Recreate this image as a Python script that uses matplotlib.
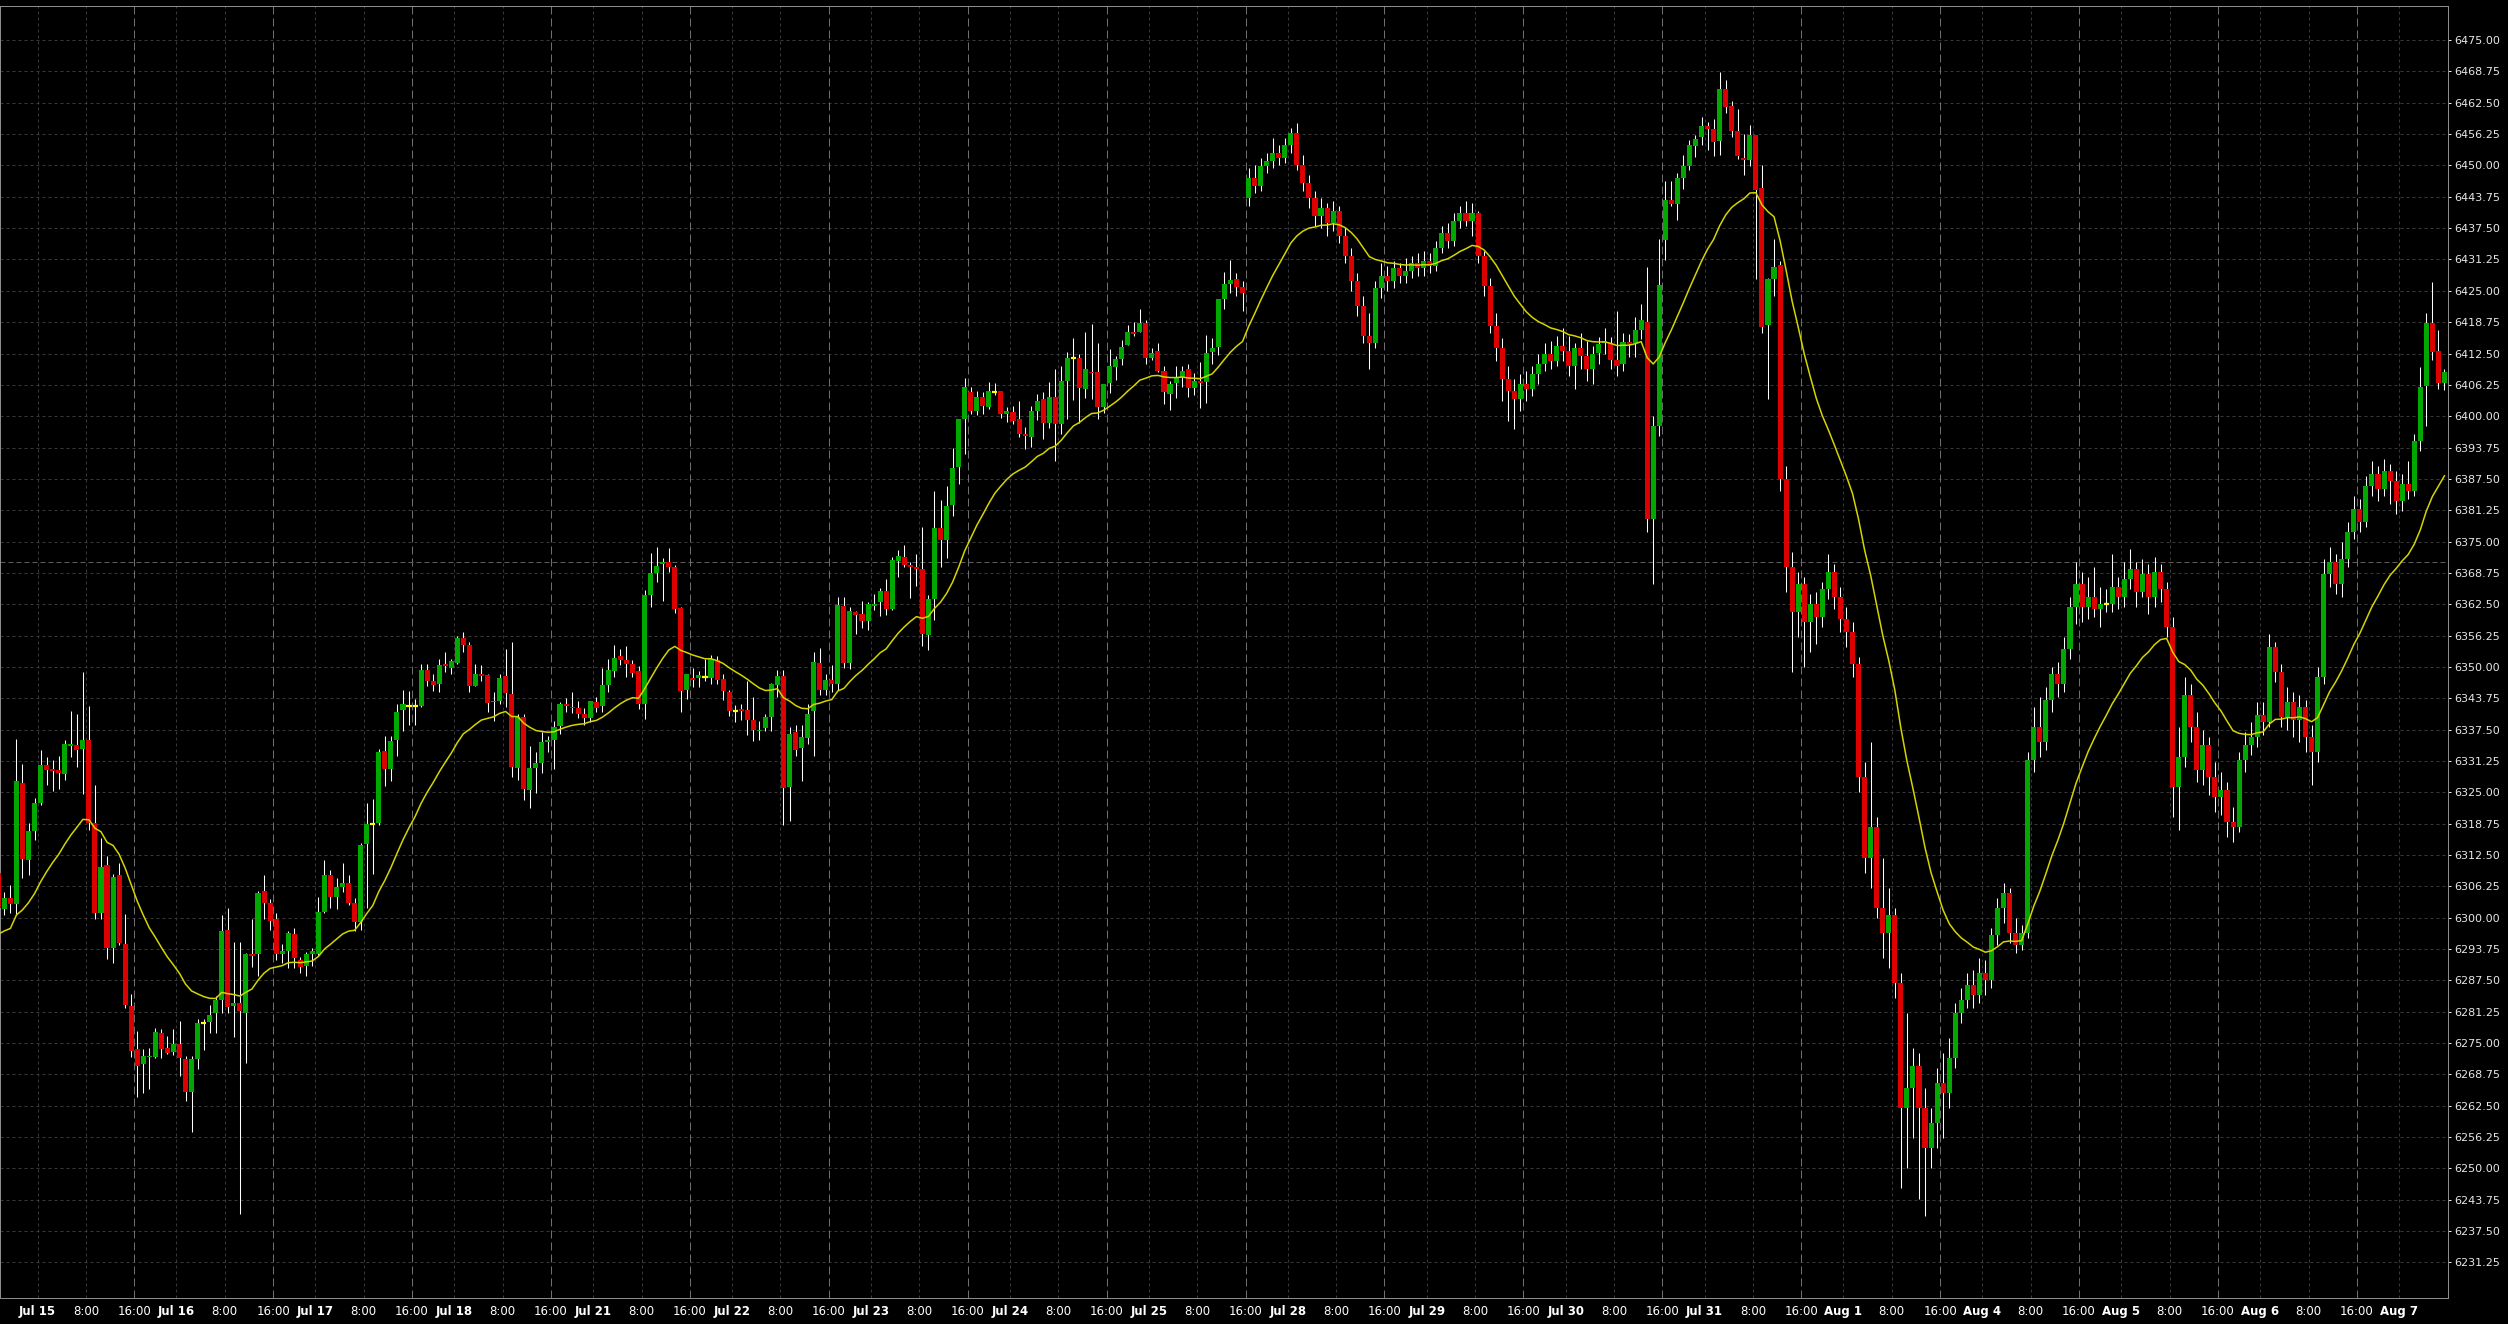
import matplotlib
matplotlib.use("Agg")
import matplotlib.pyplot as plt
import numpy as np
import pandas as pd

# hourly bars, first one is Jul 14 16:00, last one Aug 7 07:00
opens = [
    6309.0, 6301.8, 6303.9, 6302.8, 6326.9, 6311.6, 6317.3, 6322.9, 6330.5, 6329.7,
    6329.5, 6328.7, 6334.3, 6334.5, 6333.7, 6335.5, 6318.8, 6301.0, 6310.5, 6294.0,
    6308.5, 6294.8, 6282.3, 6273.8, 6270.9, 6272.2, 6272.3, 6277.0, 6274.1, 6273.2,
    6274.8, 6271.8, 6265.3, 6271.8, 6278.9, 6279.2, 6281.0, 6283.5, 6297.6, 6282.3,
    6283.0, 6281.0, 6292.7, 6292.8, 6305.3, 6303.0, 6299.7, 6292.7, 6293.3, 6296.7,
    6291.6, 6290.4, 6292.8, 6292.8, 6301.2, 6308.6, 6304.2, 6306.1, 6307.0, 6303.0,
    6299.2, 6314.7, 6318.6, 6318.8, 6333.2, 6329.6, 6335.5, 6341.5, 6342.2, 6342.2,
    6342.3, 6349.3, 6347.1, 6346.5, 6350.5, 6349.7, 6350.7, 6355.8, 6354.3, 6346.2,
    6348.5, 6348.3, 6343.0, 6343.3, 6348.2, 6344.7, 6329.8, 6340.1, 6325.4, 6329.8,
    6330.9, 6335.1, 6335.5, 6338.3, 6342.6, 6342.1, 6341.8, 6340.7, 6339.8, 6343.0,
    6342.2, 6346.3, 6349.2, 6352.1, 6351.4, 6350.6, 6349.1, 6342.6, 6364.4, 6368.8,
    6370.5, 6371.0, 6370.0, 6361.8, 6345.5, 6347.8, 6347.8, 6348.0, 6347.8, 6351.3,
    6347.6, 6345.0, 6341.3, 6341.6, 6341.4, 6339.5, 6337.2, 6337.8, 6340.1, 6346.3,
    6348.2, 6326.0, 6337.1, 6333.8, 6335.8, 6341.2, 6350.7, 6345.5, 6347.4, 6346.5,
    6362.1, 6350.8, 6360.9, 6360.5, 6359.2, 6362.2, 6362.9, 6365.1, 6361.5, 6371.1,
    6371.9, 6370.3, 6369.9, 6369.5, 6356.4, 6363.5, 6377.7, 6375.3, 6382.3, 6389.9,
    6399.4, 6404.8, 6401.0, 6403.8, 6401.8, 6404.8, 6405.0, 6400.5, 6400.8, 6399.4,
    6396.5, 6395.9, 6401.0, 6403.4, 6398.7, 6403.8, 6398.5, 6407.0, 6411.6, 6411.6,
    6405.5, 6408.9, 6408.8, 6401.9, 6406.6, 6409.8, 6411.4, 6414.2, 6416.8, 6416.8,
    6418.6, 6411.6, 6413.0, 6409.0, 6404.5, 6406.6, 6407.6, 6409.4, 6405.7, 6407.0,
    6406.8, 6412.8, 6413.8, 6423.4, 6426.4, 6427.3, 6425.7, 6443.5, 6447.5, 6446.0,
    6449.8, 6450.8, 6452.5, 6451.5, 6454.0, 6456.5, 6450.0, 6446.5, 6443.5, 6440.0,
    6441.5, 6438.5, 6441.0, 6436.0, 6432.0, 6427.0, 6422.0, 6416.0, 6414.5, 6425.5,
    6428.0, 6427.0, 6429.5, 6428.0, 6429.0, 6430.5, 6429.5, 6431.0, 6430.0, 6433.5,
    6436.5, 6435.0, 6439.0, 6440.5, 6439.0, 6440.5, 6432.0, 6426.0, 6418.0, 6413.5,
    6407.5, 6405.0, 6403.5, 6406.5, 6405.5, 6408.5, 6410.5, 6412.5, 6411.0, 6414.0,
    6413.0, 6410.0, 6413.5, 6412.0, 6409.5, 6412.6, 6414.5, 6414.6, 6411.2, 6410.5,
    6414.7, 6414.5, 6417.2, 6418.8, 6379.5, 6398.0, 6435.1, 6443.1, 6442.3, 6447.5,
    6449.9, 6453.9, 6455.7, 6457.8, 6457.2, 6454.9, 6465.2, 6461.8, 6456.8, 6451.5,
    6451.1, 6456.0, 6445.5, 6418.2, 6427.3, 6430.1, 6387.5, 6370.0, 6361.0, 6366.5,
    6359.0, 6362.5, 6360.0, 6365.5, 6369.0, 6364.0, 6359.5, 6357.0, 6350.5, 6328.0,
    6312.0, 6318.0, 6302.0, 6297.0, 6300.5, 6287.0, 6262.0, 6266.0, 6270.5, 6262.0,
    6254.0, 6259.0, 6267.0, 6265.0, 6272.0, 6281.0, 6283.5, 6286.5, 6284.5, 6289.0,
    6287.5, 6296.5, 6302.0, 6305.0, 6297.0, 6294.5, 6297.0, 6331.5, 6338.0, 6335.0,
    6343.5, 6348.5, 6346.5, 6353.5, 6362.0, 6366.5, 6362.0, 6364.0, 6361.5, 6362.5,
    6362.5, 6366.0, 6364.0, 6367.5, 6369.5, 6365.0, 6368.5, 6364.0, 6369.0, 6365.5,
    6358.0, 6326.0, 6332.0, 6344.5, 6338.0, 6329.5, 6334.5, 6328.0, 6324.0, 6325.5,
    6319.0, 6318.0, 6331.5, 6334.5, 6336.0, 6340.5, 6339.0, 6354.0, 6349.0, 6340.0,
    6343.0, 6339.5, 6342.0, 6336.0, 6333.0, 6348.0, 6368.5, 6371.0, 6366.5, 6371.5,
    6377.0, 6381.5, 6379.0, 6386.0, 6388.5, 6385.5, 6389.0, 6387.0, 6383.0, 6386.5,
    6385.0, 6395.0, 6406.1, 6418.6, 6413.0, 6406.7,
]
highs = [
    6310.0, 6305.2, 6306.5, 6335.7, 6330.7, 6318.9, 6323.8, 6333.5, 6332.1, 6331.5,
    6332.3, 6335.5, 6341.2, 6340.7, 6349.0, 6342.2, 6326.5, 6315.9, 6312.3, 6308.8,
    6311.0, 6300.8, 6284.8, 6277.4, 6273.8, 6274.0, 6278.0, 6277.9, 6276.4, 6277.9,
    6279.4, 6272.4, 6272.4, 6279.8, 6279.8, 6282.5, 6284.4, 6300.6, 6302.0, 6295.1,
    6295.1, 6292.9, 6299.8, 6305.3, 6308.5, 6303.7, 6300.9, 6294.8, 6297.3, 6297.9,
    6292.2, 6293.1, 6293.9, 6304.1, 6311.6, 6309.6, 6307.9, 6311.0, 6308.5, 6303.9,
    6314.9, 6322.8, 6323.6, 6333.7, 6336.3, 6336.3, 6342.7, 6345.5, 6345.3, 6343.7,
    6350.6, 6350.5, 6348.5, 6351.6, 6352.9, 6351.5, 6356.2, 6357.0, 6354.9, 6350.6,
    6350.3, 6348.6, 6345.1, 6348.6, 6353.5, 6354.9, 6340.6, 6340.6, 6334.3, 6333.1,
    6337.1, 6336.2, 6339.3, 6343.0, 6343.8, 6345.1, 6343.3, 6341.8, 6343.3, 6344.1,
    6349.7, 6351.5, 6354.3, 6353.6, 6354.1, 6351.3, 6350.1, 6365.4, 6372.8, 6374.0,
    6371.7, 6373.7, 6370.4, 6362.0, 6348.6, 6349.7, 6349.1, 6351.5, 6352.3, 6352.1,
    6348.6, 6345.4, 6342.5, 6342.7, 6347.1, 6344.1, 6339.3, 6340.6, 6346.8, 6349.3,
    6349.4, 6338.0, 6338.4, 6338.4, 6342.6, 6352.9, 6353.8, 6348.5, 6350.4, 6363.9,
    6363.9, 6362.0, 6361.2, 6363.1, 6362.9, 6364.5, 6365.8, 6367.5, 6372.0, 6373.3,
    6374.3, 6371.0, 6372.5, 6377.9, 6364.3, 6385.1, 6383.3, 6386.1, 6393.6, 6399.4,
    6407.6, 6405.9, 6405.0, 6404.8, 6406.8, 6406.6, 6405.0, 6401.8, 6402.0, 6403.0,
    6397.9, 6402.0, 6404.4, 6404.8, 6406.8, 6409.4, 6410.0, 6412.8, 6415.6, 6412.4,
    6416.8, 6418.4, 6414.6, 6406.4, 6413.4, 6412.0, 6415.1, 6418.2, 6418.8, 6421.4,
    6419.2, 6413.6, 6414.6, 6410.0, 6407.0, 6410.0, 6410.0, 6410.4, 6408.6, 6410.8,
    6416.2, 6415.6, 6423.4, 6428.7, 6431.1, 6428.5, 6427.0, 6449.5, 6450.0, 6451.5,
    6452.5, 6455.5, 6454.0, 6455.5, 6457.5, 6458.5, 6452.0, 6448.0, 6445.0, 6443.5,
    6442.5, 6443.0, 6442.0, 6437.5, 6433.5, 6428.5, 6424.0, 6420.5, 6427.0, 6430.5,
    6430.0, 6431.0, 6430.5, 6431.5, 6432.0, 6432.5, 6433.0, 6432.5, 6435.0, 6438.0,
    6438.5, 6440.5, 6442.0, 6443.0, 6442.5, 6441.0, 6433.0, 6427.5, 6420.5, 6415.5,
    6410.0, 6407.5, 6408.5, 6409.0, 6410.0, 6412.5, 6414.5, 6415.0, 6416.0, 6417.5,
    6416.0, 6414.5, 6416.5, 6415.0, 6414.0, 6415.8, 6417.5, 6415.8, 6421.0, 6416.5,
    6416.3, 6419.8, 6422.3, 6429.8, 6400.0, 6435.3, 6446.9, 6447.0, 6448.4, 6452.1,
    6455.1, 6456.1, 6459.6, 6458.6, 6459.2, 6468.6, 6467.0, 6462.8, 6461.2, 6456.3,
    6458.0, 6456.0, 6450.1, 6427.5, 6435.3, 6431.0, 6390.0, 6373.0, 6369.0, 6368.0,
    6364.5, 6365.0, 6367.0, 6372.5, 6370.5, 6366.0, 6362.0, 6359.0, 6352.0, 6331.0,
    6335.0, 6320.0, 6312.0, 6306.0, 6302.0, 6289.0, 6281.0, 6274.0, 6273.0, 6266.0,
    6262.0, 6270.0, 6273.0, 6276.0, 6283.0, 6286.0, 6289.0, 6289.5, 6292.0, 6291.5,
    6298.0, 6304.0, 6307.0, 6306.0, 6300.0, 6298.5, 6333.0, 6342.0, 6344.0, 6346.0,
    6350.0, 6351.0, 6356.0, 6364.0, 6371.0, 6369.0, 6368.0, 6370.0, 6366.0, 6365.5,
    6372.5, 6368.0, 6371.0, 6373.5, 6371.0, 6371.5, 6370.5, 6372.0, 6370.5, 6367.0,
    6360.0, 6338.0, 6348.0, 6346.5, 6341.0, 6337.5, 6336.0, 6331.0, 6329.0, 6327.0,
    6322.0, 6333.0, 6337.0, 6339.0, 6343.0, 6343.0, 6356.5, 6355.0, 6350.5, 6346.0,
    6345.0, 6344.5, 6343.5, 6338.5, 6350.0, 6371.5, 6374.0, 6372.5, 6375.0, 6379.0,
    6384.0, 6383.5, 6388.0, 6391.0, 6390.0, 6391.5, 6390.5, 6389.0, 6388.5, 6391.0,
    6396.5, 6409.9, 6420.6, 6426.8, 6417.2, 6409.5,
]
lows = [
    6301.0, 6300.6, 6301.0, 6300.7, 6308.0, 6308.5, 6315.5, 6322.4, 6326.5, 6325.3,
    6325.7, 6327.5, 6332.1, 6330.1, 6324.6, 6317.5, 6299.8, 6299.8, 6291.7, 6291.0,
    6294.6, 6281.9, 6272.3, 6264.3, 6265.1, 6265.9, 6272.1, 6272.1, 6272.8, 6272.6,
    6268.5, 6263.5, 6257.2, 6269.9, 6273.6, 6277.1, 6277.1, 6281.0, 6281.0, 6276.3,
    6240.9, 6271.1, 6290.2, 6288.4, 6299.8, 6297.5, 6291.6, 6291.0, 6290.0, 6290.0,
    6289.0, 6288.3, 6290.4, 6292.6, 6300.9, 6301.9, 6301.8, 6305.2, 6302.6, 6297.4,
    6297.6, 6301.9, 6308.7, 6318.4, 6326.2, 6327.3, 6332.2, 6337.3, 6338.5, 6338.4,
    6342.0, 6346.2, 6345.3, 6345.0, 6349.0, 6348.6, 6350.6, 6352.9, 6345.0, 6346.2,
    6347.2, 6341.0, 6339.3, 6342.6, 6342.1, 6328.1, 6327.4, 6323.5, 6321.9, 6324.8,
    6328.8, 6333.1, 6329.6, 6336.6, 6341.0, 6340.8, 6339.9, 6338.4, 6339.0, 6341.0,
    6341.0, 6345.0, 6348.0, 6350.3, 6348.0, 6348.0, 6341.6, 6339.6, 6362.0, 6366.9,
    6363.2, 6369.0, 6360.8, 6341.0, 6343.6, 6346.0, 6346.0, 6347.1, 6346.6, 6346.5,
    6343.4, 6340.2, 6339.0, 6339.5, 6336.5, 6335.2, 6335.5, 6337.3, 6337.3, 6344.0,
    6318.4, 6319.2, 6332.2, 6327.2, 6334.7, 6332.2, 6344.4, 6344.5, 6345.0, 6345.5,
    6349.7, 6349.5, 6356.5, 6357.8, 6357.4, 6361.3, 6360.2, 6360.3, 6361.3, 6368.0,
    6369.9, 6363.8, 6366.1, 6354.2, 6353.4, 6359.4, 6370.0, 6371.8, 6380.0, 6386.5,
    6392.5, 6400.4, 6400.2, 6400.4, 6401.4, 6404.2, 6399.7, 6398.9, 6398.5, 6395.8,
    6393.5, 6393.8, 6399.2, 6395.5, 6397.7, 6391.1, 6396.4, 6399.4, 6403.2, 6398.7,
    6403.6, 6403.4, 6399.5, 6400.7, 6404.7, 6407.2, 6410.2, 6414.1, 6416.0, 6416.8,
    6410.4, 6411.2, 6408.8, 6402.5, 6401.3, 6403.7, 6405.9, 6403.9, 6404.3, 6401.7,
    6402.7, 6410.4, 6412.2, 6421.4, 6424.6, 6424.0, 6421.0, 6442.0, 6444.5, 6445.0,
    6448.5, 6449.5, 6450.0, 6450.5, 6452.5, 6449.0, 6445.0, 6441.5, 6438.0, 6437.5,
    6436.0, 6437.0, 6434.5, 6430.5, 6425.0, 6420.0, 6414.5, 6409.5, 6413.5, 6423.5,
    6425.0, 6425.5, 6426.5, 6426.5, 6427.5, 6428.0, 6428.0, 6428.5, 6429.0, 6432.5,
    6433.5, 6434.0, 6437.5, 6438.0, 6436.0, 6430.5, 6424.0, 6416.5, 6411.0, 6403.0,
    6399.0, 6397.5, 6401.0, 6403.0, 6404.0, 6406.5, 6409.0, 6409.5, 6410.0, 6411.0,
    6408.0, 6405.5, 6409.5, 6407.0, 6406.5, 6410.5, 6412.5, 6409.5, 6408.0, 6409.0,
    6411.8, 6411.8, 6415.3, 6377.0, 6366.5, 6396.0, 6431.1, 6442.0, 6439.1, 6445.3,
    6449.1, 6451.7, 6454.1, 6453.1, 6451.9, 6452.1, 6460.4, 6455.7, 6451.3, 6448.1,
    6449.9, 6427.3, 6416.6, 6403.5, 6423.9, 6385.0, 6365.0, 6349.0, 6356.0, 6350.0,
    6353.0, 6354.5, 6358.0, 6363.5, 6361.5, 6357.0, 6354.0, 6348.0, 6325.0, 6309.0,
    6306.0, 6300.0, 6292.0, 6290.0, 6284.0, 6246.0, 6250.0, 6256.0, 6244.0, 6240.5,
    6250.0, 6254.0, 6256.0, 6262.0, 6270.0, 6279.0, 6282.0, 6282.0, 6283.0, 6284.5,
    6286.0, 6294.5, 6299.0, 6295.0, 6293.0, 6293.5, 6296.0, 6329.0, 6332.0, 6333.5,
    6341.0, 6344.0, 6345.0, 6351.5, 6358.5, 6359.0, 6359.5, 6360.0, 6358.0, 6361.0,
    6361.0, 6361.5, 6362.0, 6365.5, 6362.0, 6364.0, 6360.5, 6362.0, 6363.0, 6356.0,
    6320.0, 6317.5, 6330.0, 6335.0, 6327.0, 6326.5, 6324.5, 6321.0, 6320.5, 6316.0,
    6315.0, 6317.0, 6329.0, 6332.5, 6334.0, 6336.5, 6338.0, 6347.0, 6338.0, 6337.5,
    6336.0, 6335.0, 6333.0, 6326.5, 6331.0, 6346.5, 6366.0, 6364.5, 6364.0, 6370.0,
    6375.5, 6377.0, 6378.0, 6384.0, 6383.0, 6384.0, 6382.5, 6380.5, 6381.0, 6383.5,
    6384.0, 6393.0, 6398.0, 6411.2, 6405.5, 6405.2,
]
closes = [
    6302.0, 6304.0, 6302.8, 6327.3, 6311.8, 6317.3, 6322.9, 6330.5, 6329.5, 6329.3,
    6328.9, 6334.7, 6334.7, 6333.5, 6335.5, 6318.8, 6301.0, 6310.1, 6294.0, 6308.1,
    6295.0, 6282.5, 6273.5, 6270.5, 6272.5, 6272.5, 6277.2, 6273.9, 6273.1, 6274.8,
    6272.0, 6265.3, 6271.8, 6279.0, 6278.9, 6280.5, 6283.5, 6297.3, 6282.2, 6283.0,
    6281.3, 6292.7, 6292.4, 6305.0, 6303.0, 6299.3, 6292.8, 6293.3, 6296.9, 6292.0,
    6290.2, 6292.7, 6293.3, 6301.2, 6308.6, 6304.2, 6306.1, 6306.9, 6303.0, 6299.2,
    6314.4, 6318.7, 6318.6, 6333.1, 6329.6, 6335.3, 6341.1, 6342.7, 6342.2, 6342.2,
    6349.3, 6347.1, 6346.3, 6350.3, 6350.2, 6351.1, 6355.8, 6354.3, 6346.2, 6348.6,
    6348.2, 6342.8, 6343.3, 6347.7, 6344.8, 6330.0, 6340.1, 6325.6, 6329.8, 6330.9,
    6335.1, 6335.5, 6338.1, 6342.6, 6342.2, 6341.8, 6340.6, 6339.8, 6343.3, 6341.8,
    6346.3, 6349.3, 6351.7, 6351.3, 6350.5, 6348.7, 6342.6, 6364.4, 6368.8, 6370.2,
    6371.0, 6369.9, 6361.5, 6345.3, 6348.5, 6347.4, 6348.3, 6348.0, 6351.6, 6347.4,
    6345.3, 6341.3, 6341.3, 6341.3, 6339.5, 6337.5, 6337.5, 6340.1, 6346.5, 6348.2,
    6325.8, 6336.7, 6333.5, 6336.1, 6340.7, 6351.0, 6345.5, 6347.4, 6346.5, 6362.3,
    6350.8, 6361.1, 6360.3, 6359.2, 6362.5, 6362.5, 6365.1, 6361.5, 6371.3, 6372.1,
    6370.3, 6370.0, 6369.5, 6356.6, 6363.5, 6377.7, 6375.3, 6382.1, 6389.6, 6399.4,
    6405.8, 6401.0, 6403.8, 6402.0, 6405.0, 6404.8, 6400.5, 6401.0, 6399.0, 6396.5,
    6396.1, 6401.0, 6403.0, 6398.7, 6403.8, 6398.5, 6407.0, 6411.6, 6411.6, 6405.7,
    6409.4, 6408.6, 6401.9, 6406.4, 6410.0, 6411.4, 6413.8, 6416.8, 6416.4, 6418.6,
    6411.6, 6412.6, 6409.0, 6404.9, 6406.4, 6407.6, 6409.0, 6405.7, 6407.0, 6406.6,
    6412.6, 6413.6, 6423.4, 6426.4, 6427.1, 6425.7, 6424.5, 6447.5, 6446.0, 6449.8,
    6450.8, 6452.5, 6451.5, 6454.0, 6456.5, 6450.0, 6446.5, 6443.5, 6440.0, 6441.5,
    6438.5, 6441.0, 6436.0, 6432.0, 6427.0, 6422.0, 6416.0, 6414.5, 6425.5, 6428.0,
    6427.0, 6429.5, 6428.0, 6429.0, 6430.5, 6429.5, 6431.0, 6430.0, 6433.5, 6436.5,
    6435.0, 6439.0, 6440.5, 6439.0, 6440.5, 6432.0, 6426.0, 6418.0, 6413.5, 6407.5,
    6405.0, 6403.5, 6406.5, 6405.5, 6408.5, 6410.5, 6412.5, 6411.0, 6414.0, 6413.0,
    6410.0, 6413.5, 6412.0, 6409.5, 6412.5, 6414.3, 6415.0, 6411.2, 6410.0, 6414.7,
    6414.4, 6417.2, 6419.2, 6379.5, 6398.0, 6426.1, 6443.1, 6442.3, 6447.5, 6449.9,
    6454.1, 6455.3, 6457.8, 6457.2, 6454.7, 6465.2, 6461.7, 6456.8, 6451.9, 6451.1,
    6456.0, 6445.2, 6417.8, 6427.3, 6429.7, 6387.5, 6370.0, 6361.0, 6366.5, 6359.0,
    6362.5, 6360.0, 6365.5, 6369.0, 6364.0, 6359.5, 6357.0, 6350.5, 6328.0, 6312.0,
    6318.0, 6302.0, 6297.0, 6300.5, 6287.0, 6262.0, 6266.0, 6270.5, 6262.0, 6254.0,
    6259.0, 6267.0, 6265.0, 6272.0, 6281.0, 6283.5, 6286.5, 6284.5, 6289.0, 6287.5,
    6296.5, 6302.0, 6305.0, 6297.0, 6294.5, 6297.0, 6331.5, 6338.0, 6335.0, 6343.5,
    6348.5, 6346.5, 6353.5, 6362.0, 6366.5, 6362.0, 6364.0, 6361.5, 6362.5, 6362.5,
    6366.0, 6364.0, 6367.5, 6369.5, 6365.0, 6368.5, 6364.0, 6369.0, 6365.5, 6358.0,
    6326.0, 6332.0, 6344.5, 6338.0, 6329.5, 6334.5, 6328.0, 6324.0, 6325.5, 6319.0,
    6318.0, 6331.5, 6334.5, 6336.0, 6340.5, 6339.0, 6354.0, 6349.0, 6340.0, 6343.0,
    6339.5, 6342.0, 6336.0, 6333.0, 6348.0, 6368.5, 6371.0, 6366.5, 6371.5, 6377.0,
    6381.5, 6379.0, 6386.0, 6388.5, 6385.5, 6389.0, 6387.0, 6383.0, 6386.5, 6385.0,
    6395.0, 6405.9, 6418.6, 6412.9, 6406.7, 6408.9,
]

days = ["Jul 15", "Jul 16", "Jul 17", "Jul 18", "Jul 21", "Jul 22", "Jul 23", "Jul 24", "Jul 25",
        "Jul 28", "Jul 29", "Jul 30", "Jul 31", "Aug 1", "Aug 4", "Aug 5", "Aug 6", "Aug 7"]
first_day_bar = 7      # bar index of Jul 15 00:00
bars_per_day = 23
ma_start = 6296.7      # moving average value at the left edge
hline_price = 6371.0   # horizontal line drawn on the chart

o = np.array(opens)
h = np.array(highs)
l = np.array(lows)
c = np.array(closes)
x = np.arange(len(c))

fig = plt.figure(figsize=(25.08, 13.24), dpi=100, facecolor="black")
ax = fig.add_axes([0, 0.0196, 0.9761, 0.9758], facecolor="black")

# grid
yt = np.arange(6231.25, 6475.01, 6.25)
for y in yt:
    ax.axhline(y, color="#383838", lw=0.72, ls=(0, (3, 3)), zorder=1)
xt, xl = [], []
for d, name in enumerate(days):
    s = first_day_bar + bars_per_day * d
    for off, lab in [(-0.5, name), (7.5, "8:00"), (15.5, "16:00")]:
        if s + off > 405.4:
            continue
        xt.append(s + off)
        xl.append(lab)
        if lab == "16:00":
            ax.axvline(s + off, color="#6e6e6e", lw=0.72, ls=(0, (8, 4)), zorder=1)
        else:
            ax.axvline(s + off, color="#383838", lw=0.72, ls=(0, (3, 3)), zorder=1)
ax.axhline(hline_price, color="#5e5e5e", lw=0.72, ls=(0, (5, 3)), zorder=1)

# candles
up = c > o
dn = c < o
dj = c == o
ax.vlines(x, l, h, color="white", lw=0.75, zorder=3)
ax.bar(x[up], (c - o)[up], bottom=o[up], width=0.84, color="#00a800", lw=0, zorder=4)
ax.bar(x[dn], (o - c)[dn], bottom=c[dn], width=0.84, color="#dc0000", lw=0, zorder=4)
ax.hlines(c[dj], x[dj] - 0.42, x[dj] + 0.42, color="#ffff00", lw=1.6, zorder=4)

# moving average (21 period exponential)
ma = pd.Series([ma_start] + closes[1:]).ewm(span=21, adjust=False).mean()
ax.plot(x, ma, color="#d4d400", lw=1.1, zorder=5)

ax.set_xlim(0.28, 405.6)
ax.set_ylim(6224.15, 6481.78)

ax.yaxis.tick_right()
ax.set_yticks(yt)
ax.set_yticklabels(["%.2f" % v for v in yt])
ax.set_xticks(xt)
ax.set_xticklabels(xl)
ax.tick_params(axis="y", colors="#e8e8e8", labelsize=8, length=2.5, width=0.72, pad=2, labelcolor="#e8e8e8")
ax.tick_params(axis="x", colors="white", labelsize=8.5, length=0, pad=5)
for lbl in ax.get_xticklabels():
    if ":" not in lbl.get_text():
        lbl.set_fontweight("bold")
for sp in ax.spines.values():
    sp.set_color("#8c8c8c")
    sp.set_linewidth(0.72)

fig.savefig("out.png", dpi=100, facecolor="black")
